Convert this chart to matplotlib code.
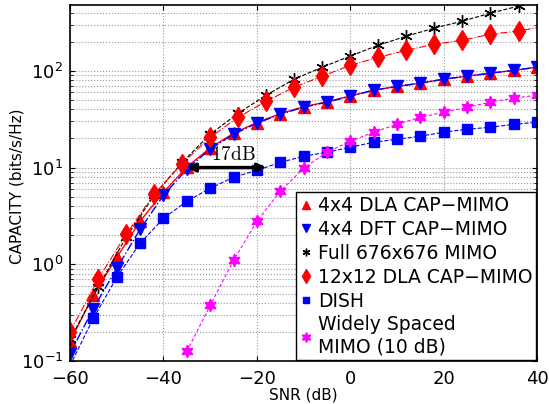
import matplotlib
matplotlib.use('Agg')
import matplotlib.pyplot as plt
from matplotlib.lines import Line2D

plt.rcParams['mathtext.fontset'] = 'cm'

# SNR grids
snr_5 = [-60, -55, -50, -45, -40, -35, -30, -25, -20, -15, -10,
         -5, 0, 5, 10, 15, 20, 25, 30, 35, 40]
snr_6 = [-60, -54, -48, -42, -36, -30, -24, -18, -12, -6,
         0, 6, 12, 18, 24, 30, 36, 40]
snr_wide = [-35, -30, -25, -20, -15, -10, -5, 0, 5, 10, 15,
            20, 25, 30, 35, 40]

dla_4x4 = [0.16, 0.48, 1.18, 2.79, 5.56, 10.1, 16.0, 22.6, 29.2, 36.0,
           42.5, 47.8, 55.0, 63.0, 69.0, 74.5, 82.0, 88.0, 94.5, 101, 109]
dft_4x4 = [0.12, 0.35, 0.91, 2.30, 5.17, 9.6, 15.5, 22.1, 28.7, 35.6,
           42.0, 47.4, 54.6, 63.0, 69.0, 74.5, 81.9, 87.9, 94.4, 101, 109]
full_mimo = [0.168, 0.58, 1.90, 5.17, 11.3, 22.1, 36.4, 56, 82, 109,
             142, 184, 228, 276, 326, 394, 466, 520]
dla_12x12 = [0.20, 0.70, 2.04, 5.3, 11.0, 20.6, 33.1, 48.5, 67.7, 88,
             114, 138, 163, 188, 207, 239, 257, 280]
dish = [0.09, 0.277, 0.734, 1.65, 2.99, 4.48, 6.11, 7.94, 9.38, 11.3,
        13.1, 14.4, 16.2, 18.3, 19.6, 21.1, 23.2, 24.9, 26.1, 28.0, 29.4]
wide_mimo = [0.126, 0.377, 1.10, 2.78, 5.69, 9.84, 14.4, 18.7, 23.2,
             28.0, 33.1, 37.3, 42.0, 47.4, 52.1, 56.0]

labels = [
    '4x4 DLA CAP\u2212MIMO',
    '4x4 DFT CAP\u2212MIMO',
    'Full 676x676 MIMO',
    '12x12 DLA CAP\u2212MIMO',
    'DISH',
    'Widely Spaced\nMIMO (10 dB)',
]

star6 = (6, 2, 0)
hexstar = (6, 1, 0)

fig = plt.figure(figsize=(5.49, 4.04), dpi=100)
ax = fig.add_axes([0.1275, 0.106, 0.851, 0.882])

ax.plot(snr_5, dla_4x4, '-', color='red', linewidth=1,
        marker='^', markersize=9, markeredgecolor='red')
ax.plot(snr_5, dft_4x4, '-.', color='blue', linewidth=1,
        marker='v', markersize=9, markeredgecolor='blue')
ax.plot(snr_6, full_mimo, '--', color='black', linewidth=0.8,
        marker=star6, markersize=9, markeredgewidth=1,
        markevery=list(range(len(snr_6) - 1)))
ax.plot(snr_6, dla_12x12, '-.', color='red', linewidth=0.8,
        marker='d', markersize=10, markeredgecolor='red',
        markevery=list(range(len(snr_6) - 1)))
ax.plot(snr_5, dish, '--', color='blue', linewidth=0.8,
        marker='s', markersize=6.5, markeredgecolor='blue')
ax.plot(snr_wide, wide_mimo, '--', color='magenta', linewidth=0.8,
        dashes=(3, 2), marker=hexstar, markersize=9,
        markeredgecolor='magenta')

ax.set_yscale('log')
ax.set_xlim(-60, 40)
ax.set_ylim(0.1, 480)
ax.set_xticks([-60, -40, -20, 0, 20, 40])
ax.set_xticklabels(['\u221260', '\u221240', '\u221220', '0', '20', '40'])

ax.grid(True, which='major', linestyle=':', color='#999999', linewidth=0.8)
ax.grid(True, which='minor', axis='y', linestyle=':', color='#999999',
        linewidth=0.8)
ax.tick_params(which='both', direction='in', top=True, right=True)
ax.tick_params(labelsize=13, pad=6)
ax.tick_params(axis='y', pad=5)
for s in ax.spines.values():
    s.set_linewidth(1.2)

ax.set_xlabel('SNR (dB)', fontsize=11, labelpad=0)
ax.set_ylabel('CAPACITY (bits/s/Hz)', fontsize=11)
ax.yaxis.set_label_coords(-0.097, 0.49)

# 17 dB gap arrow
ax.annotate('', xy=(-18, 10), xytext=(-35, 10),
            arrowprops=dict(arrowstyle='<|-|>', color='black', lw=2.5,
                            mutation_scale=12, shrinkA=0, shrinkB=0))
ax.text(-25, 10.9, r'$\mathrm{17dB}$', fontsize=14, ha='center',
        va='bottom')

handles = [
    Line2D([], [], linestyle='none', marker='^', color='red', markersize=5.5),
    Line2D([], [], linestyle='none', marker='v', color='blue', markersize=5.5),
    Line2D([], [], linestyle='none', marker=star6, color='black',
           markersize=5.5, markeredgewidth=1),
    Line2D([], [], linestyle='none', marker='d', color='red', markersize=7),
    Line2D([], [], linestyle='none', marker='s', color='blue', markersize=4.5),
    Line2D([], [], linestyle='none', marker=hexstar, color='magenta',
           markersize=7),
]
leg = ax.legend(handles, labels, loc='lower right', fontsize=13.5,
                handlelength=0.6, handletextpad=0.35, borderpad=0.2,
                labelspacing=0.26, borderaxespad=0.05, fancybox=False,
                framealpha=1, edgecolor='black')
leg.get_frame().set_linewidth(1.0)

fig.savefig('out.png', dpi=100)
